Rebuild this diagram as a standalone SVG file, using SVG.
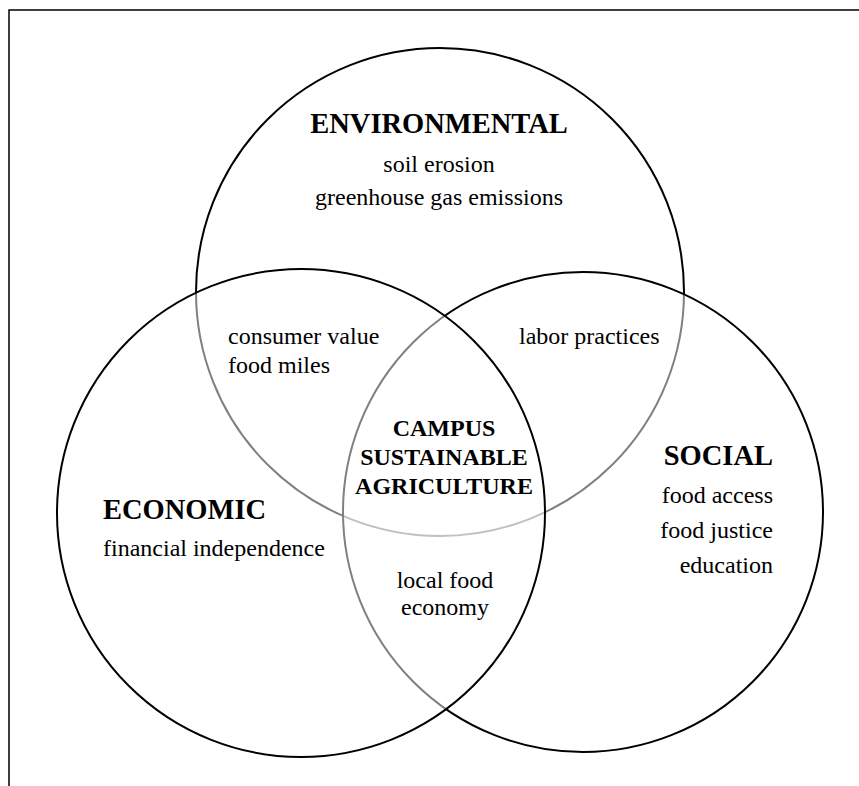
<svg xmlns="http://www.w3.org/2000/svg" width="859" height="786" viewBox="0 0 859 786">
<style>
.c{fill:#fff;fill-opacity:0.5;stroke:#000;stroke-width:2}
.h{font-family:"Liberation Serif","Times New Roman",serif;font-weight:bold;font-size:28.5px;fill:#000}
.m{font-family:"Liberation Serif","Times New Roman",serif;font-weight:bold;font-size:24px;fill:#000}
.t{font-family:"Liberation Serif","Times New Roman",serif;font-size:24px;fill:#000}
</style>
<rect x="0" y="0" width="859" height="786" fill="#fff"/>
<path d="M9,786 V10 H859" fill="none" stroke="#000" stroke-width="1.5"/>
<g id="environmental">
<circle class="c" cx="440" cy="292" r="244"/>
<text class="h" x="439" y="133" text-anchor="middle">ENVIRONMENTAL</text>
<text class="t" x="439" y="172" text-anchor="middle">soil erosion</text>
<text class="t" x="439" y="205" text-anchor="middle">greenhouse gas emissions</text>
</g>
<g id="social">
<circle class="c" cx="583" cy="512" r="240"/>
<text class="h" x="773" y="465" text-anchor="end">SOCIAL</text>
<text class="t" x="773" y="503" text-anchor="end">food access</text>
<text class="t" x="773" y="538" text-anchor="end">food justice</text>
<text class="t" x="773" y="573" text-anchor="end">education</text>
</g>
<g id="economic">
<circle class="c" cx="301" cy="513" r="244"/>
<text class="h" x="103" y="519">ECONOMIC</text>
<text class="t" x="103" y="556">financial independence</text>
</g>
<g id="env-econ">
<text class="t" x="228" y="344">consumer value</text>
<text class="t" x="228" y="373">food miles</text>
</g>
<g id="env-social">
<text class="t" x="519" y="344">labor practices</text>
</g>
<g id="econ-social">
<text class="t" x="445" y="588" text-anchor="middle">local food</text>
<text class="t" x="445" y="615" text-anchor="middle">economy</text>
</g>
<g id="center">
<text class="m" x="444" y="436" text-anchor="middle">CAMPUS</text>
<text class="m" x="444" y="465" text-anchor="middle">SUSTAINABLE</text>
<text class="m" x="444" y="494" text-anchor="middle">AGRICULTURE</text>
</g>
<g id="connectors"></g>
</svg>
